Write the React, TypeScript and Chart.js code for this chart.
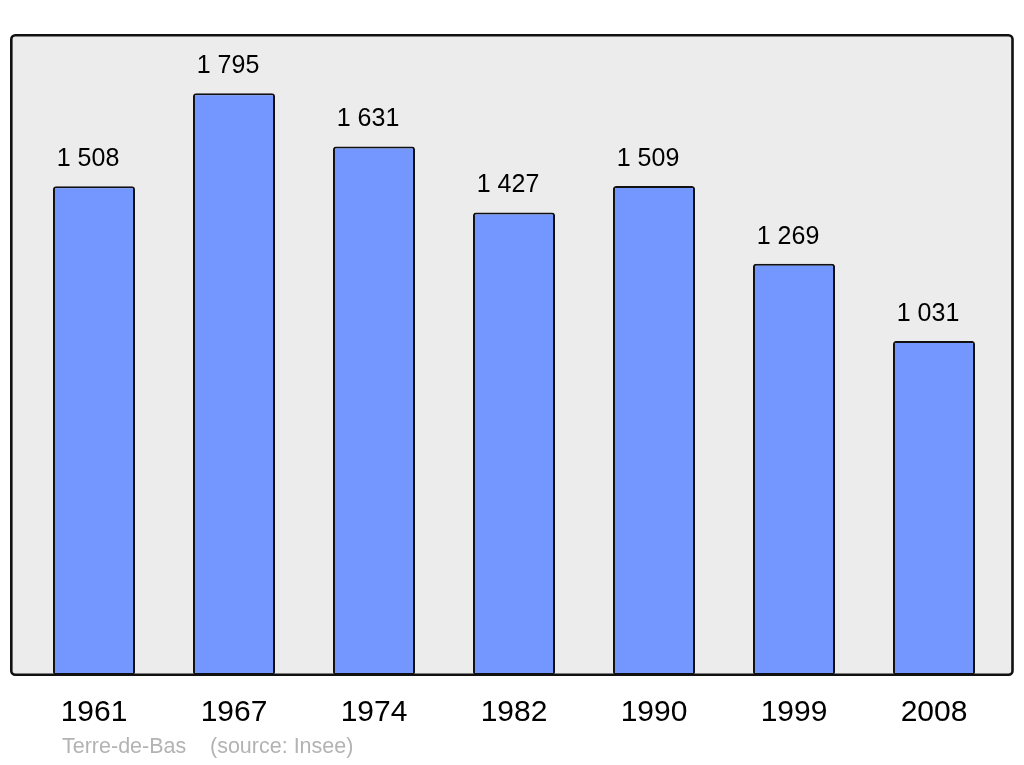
import React, { useEffect, useRef } from "react";
import { Chart, registerables } from "chart.js";

Chart.register(...registerables);

const years = ["1961", "1967", "1974", "1982", "1990", "1999", "2008"];
const population = [1508, 1795, 1631, 1427, 1509, 1269, 1031];
const commune = "Terre-de-Bas";
const sourceText = "(source: Insee)";

const fmt = (v: number) => {
  const s = String(v);
  return s.length > 3 ? s.slice(0, s.length - 3) + " " + s.slice(s.length - 3) : s;
};

const FONT = "'Liberation Sans', Arial, sans-serif";

function roundRect(ctx: CanvasRenderingContext2D, x: number, y: number, w: number, h: number, r: number) {
  ctx.beginPath();
  ctx.moveTo(x + r, y);
  ctx.lineTo(x + w - r, y);
  ctx.arcTo(x + w, y, x + w, y + r, r);
  ctx.lineTo(x + w, y + h - r);
  ctx.arcTo(x + w, y + h, x + w - r, y + h, r);
  ctx.lineTo(x + r, y + h);
  ctx.arcTo(x, y + h, x, y + h - r, r);
  ctx.lineTo(x, y + r);
  ctx.arcTo(x, y, x + r, y, r);
  ctx.closePath();
}

const framePlugin = {
  id: "frame",
  beforeDatasetsDraw(chart: any) {
    const ctx = chart.ctx as CanvasRenderingContext2D;
    const { top, bottom } = chart.chartArea;
    ctx.save();
    roundRect(ctx, 11.3, top + 0.3, 1001.2, bottom - top - 0.5, 4);
    ctx.fillStyle = "#ececec";
    ctx.fill();
    ctx.restore();
  },
  afterDatasetsDraw(chart: any) {
    const ctx = chart.ctx as CanvasRenderingContext2D;
    const { top, bottom } = chart.chartArea;
    ctx.save();
    roundRect(ctx, 11.3, top + 0.3, 1001.2, bottom - top - 0.5, 4);
    ctx.lineWidth = 2.6;
    ctx.strokeStyle = "#111";
    ctx.stroke();

    const meta = chart.getDatasetMeta(0);
    ctx.fillStyle = "#000";
    ctx.font = `25px ${FONT}`;
    ctx.textAlign = "center";
    ctx.textBaseline = "middle";
    meta.data.forEach((bar: any, i: number) => {
      ctx.fillText(fmt(population[i]), bar.x - 6, bar.y - 27);
    });

    ctx.fillStyle = "#b3b3b3";
    ctx.font = `21.5px ${FONT}`;
    ctx.textAlign = "left";
    ctx.fillText(commune, 62, 747);
    ctx.fillText(sourceText, 210, 747);
    ctx.restore();
  },
};

export default function App() {
  const ref = useRef<HTMLCanvasElement>(null);
  useEffect(() => {
    document.body.style.margin = "0";
    const chart = new Chart(ref.current!, {
      type: "bar",
      data: {
        labels: years,
        datasets: [
          {
            data: population,
            backgroundColor: "#7396ff",
            borderColor: "#111",
            borderWidth: 2,
            borderSkipped: false,
            borderRadius: 3,
            barPercentage: 0.586,
            categoryPercentage: 1,
          },
        ],
      },
      options: {
        responsive: false,
        animation: false,
        layout: { padding: { top: 35, left: 24, right: 20, bottom: 15 } },
        plugins: { legend: { display: false }, tooltip: { enabled: false }, title: { display: false } },
        scales: {
          x: {
            offset: true,
            grid: { display: false, drawTicks: false },
            border: { display: false },
            ticks: {
              color: "#000",
              padding: 22.5,
              font: { family: FONT, size: 30, lineHeight: 1 },
              maxRotation: 0,
            },
          },
          y: {
            display: false,
            min: 0,
            max: 1975,
          },
        },
      },
      plugins: [framePlugin],
    });
    return () => chart.destroy();
  }, []);
  return (
    <div style={{ width: 1024, height: 765, background: "#fff" }}>
      <canvas ref={ref} width={1024} height={765} />
    </div>
  );
}
